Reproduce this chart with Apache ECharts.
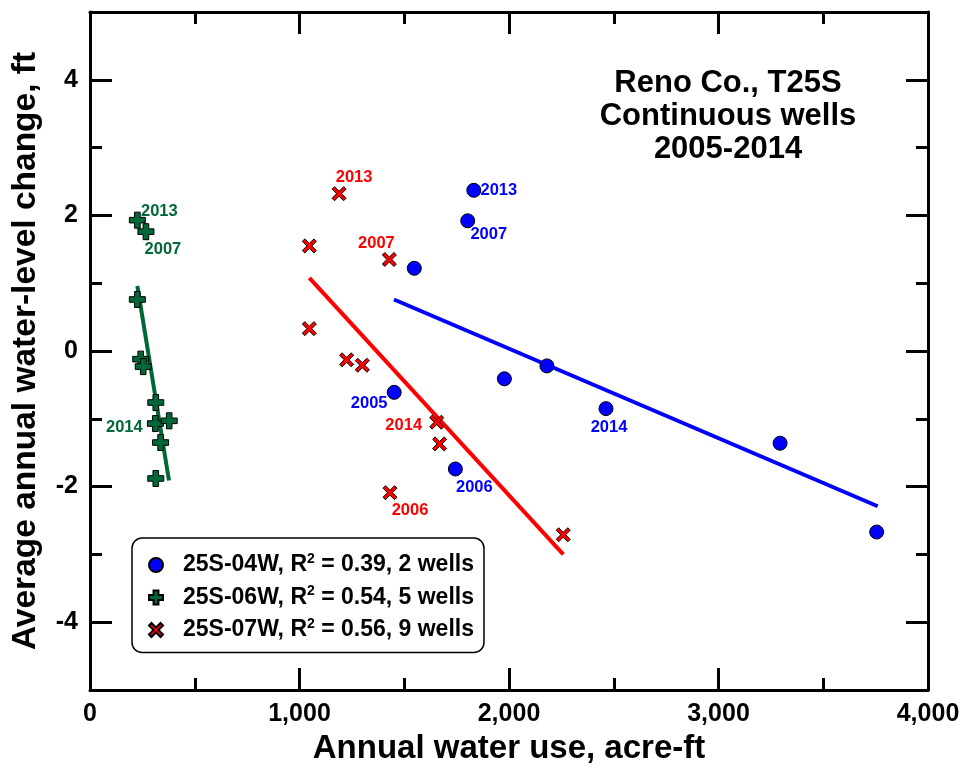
<!DOCTYPE html>
<html>
<head>
<meta charset="utf-8">
<script src="https://cdn.jsdelivr.net/npm/echarts@6/dist/echarts.min.js"></script>
<style>
html,body{margin:0;padding:0;background:#fff}
#chart{width:966px;height:770px}
</style>
</head>
<body>
<div id="chart"></div>
<script>
// annual water use (acre-ft) vs average water-level change (ft)
var use04 = [1452, 1744, 1803, 1832, 2463, 1548, 1978, 2181, 3294, 3755];
var chg04 = [-0.61, -1.74, 1.92, 2.37, -0.85, 1.22, -0.41, -0.22, -1.36, -2.67];
var yr04 = ['2005', '2006', '2007', '2013', '2014', '', '', '', '', ''];

var use06 = [226, 267, 312, 226, 242, 254, 314, 378, 337, 314];
var chg06 = [1.93, 1.76, -1.07, 0.76, -0.12, -0.23, -0.76, -1.03, -1.35, -1.88];
var yr06 = ['2013', '2007', '2014', '', '', '', '', '', '', ''];

var use07 = [1189, 1429, 1655, 1432, 1047, 1047, 1225, 1300, 1669, 2259];
var chg07 = [2.32, 1.35, -1.05, -2.09, 1.55, 0.33, -0.13, -0.21, -1.37, -2.71];
var yr07 = ['2013', '2007', '2014', '2006', '', '', '', '', '', ''];

// regression line end points
var fitX04 = [1451, 3760], fitY04 = [0.76, -2.29];
var fitX06 = [226, 377], fitY06 = [0.96, -1.91];
var fitX07 = [1047, 2259], fitY07 = [1.08, -3.0];

var names = ['25S-04W', '25S-06W', '25S-07W'];
var r2 = ['0.39', '0.54', '0.56'];
var wells = [2, 5, 9];

var yMajor = [-4, -2, 0, 2, 4];

// label placement (pixels from point centre)
var labelOffsets = {
    '04': {'2005': [-25, 11], '2006': [19, 18], '2007': [21, 14], '2013': [25, 0], '2014': [3, 19]},
    '06': {'2013': [22, -9], '2007': [17, 18], '2014': [-31, 4]},
    '07': {'2013': [15, -16], '2007': [-13, -16], '2014': [-33, 3], '2006': [20, 18]}
};

var BLUE = '#0000ff', GREEN = '#006837', RED = '#ff0000';
var FONT = '"Liberation Sans", Arial, sans-serif';
var plusPath = 'path://M6.5,0H13.5V6.5H20V13.5H13.5V20H6.5V13.5H0V6.5H6.5Z';
var crossPath = 'path://M0,3.5L3.5,0L10,6.5L16.5,0L20,3.5L13.5,10L20,16.5L16.5,20L10,13.5L3.5,20L0,16.5L6.5,10Z';

function points(xs, ys, yrs, key) {
    return xs.map(function (x, i) {
        var y = yrs[i];
        return {
            value: [x, ys[i]],
            label: y ? {show: true, formatter: y, offset: labelOffsets[key][y]} : {show: false}
        };
    });
}
function pairs(xs, ys) {
    return xs.map(function (x, i) { return [x, ys[i]]; });
}

function scatter(name, symbol, size, color, data) {
    return {
        name: name,
        type: 'scatter',
        symbol: symbol,
        symbolSize: size,
        z: 5,
        itemStyle: {color: color, borderColor: '#000', borderWidth: 1, opacity: 1},
        label: {
            position: 'inside',
            color: color,
            fontFamily: FONT,
            fontWeight: 'bold',
            fontSize: 16.5
        },
        data: data
    };
}
function fit(color, data) {
    return {
        name: 'fit',
        type: 'line',
        symbol: 'none',
        z: 2,
        silent: true,
        lineStyle: {color: color, width: 4},
        data: data
    };
}

var lineStyleAxis = {show: true, onZero: false, lineStyle: {color: '#000', width: 3}};

function xAx(pos, labels) {
    return {
        type: 'value', position: pos, min: 0, max: 4000, interval: 1000,
        axisLine: lineStyleAxis,
        axisTick: {show: true, inside: true, length: 22, lineStyle: {color: '#000', width: 3}},
        minorTick: {show: true, splitNumber: 2, length: 12, lineStyle: {color: '#000', width: 3}},
        splitLine: {show: false},
        axisLabel: labels ? {
            show: true, margin: 12, fontFamily: FONT, fontWeight: 'bold', fontSize: 25, color: '#000',
            formatter: function (v) { return v.toLocaleString('en-US'); }
        } : {show: false},
        name: labels ? 'Annual water use, acre-ft' : '',
        nameLocation: 'middle',
        nameGap: 42,
        nameTextStyle: {fontFamily: FONT, fontWeight: 'bold', fontSize: 33, color: '#000'}
    };
}
function yAx(pos, major, labels) {
    return {
        type: 'value', position: pos, min: -5, max: 5, interval: 1,
        axisLine: major ? {show: false, onZero: false} : lineStyleAxis,
        axisTick: major ?
            {show: true, inside: true, length: 22, customValues: yMajor, lineStyle: {color: '#000', width: 3}} :
            {show: true, inside: true, length: 12, lineStyle: {color: '#000', width: 3}},
        splitLine: {show: false},
        axisLabel: labels ? {
            show: true, margin: 12, fontFamily: FONT, fontWeight: 'bold', fontSize: 25, color: '#000',
            formatter: function (v) { return yMajor.indexOf(v) >= 0 ? String(v) : ''; }
        } : {show: false},
        name: labels ? 'Average annual water-level change, ft' : '',
        nameLocation: 'middle',
        nameRotate: 90,
        nameGap: 47,
        nameTextStyle: {fontFamily: FONT, fontWeight: 'bold', fontSize: 33.5, color: '#000'}
    };
}

var chart = echarts.init(document.getElementById('chart'));
chart.setOption({
    backgroundColor: '#fff',
    animation: false,
    grid: {left: 90, right: 38, top: 12, bottom: 78},
    graphic: [{
        type: 'text',
        x: 728, y: 67,
        style: {
            text: 'Reno Co., T25S\nContinuous wells\n2005-2014',
            font: 'bold 31px ' + FONT,
            fill: '#000',
            textAlign: 'center',
            lineHeight: 33
        }
    }],
    legend: {
        orient: 'vertical',
        left: 132, top: 538,
        padding: [14, 10, 11, 16],
        itemGap: 8,
        itemWidth: 14, itemHeight: 14,
        borderColor: '#000', borderWidth: 1.5, borderRadius: 10,
        backgroundColor: '#fff',
        selectedMode: false,
        data: names,
        formatter: function (name) {
            var i = names.indexOf(name);
            return '{t|' + name + ', R}{s|2}{t| = ' + r2[i] + ', ' + wells[i] + ' wells}';
        },
        textStyle: {
            padding: [0, 0, 0, 15],
            rich: {
                t: {fontFamily: FONT, fontWeight: 'bold', fontSize: 23, color: '#000', lineHeight: 26},
                s: {fontFamily: FONT, fontWeight: 'bold', fontSize: 14, color: '#000', lineHeight: 14, verticalAlign: 'top'}
            }
        }
    },
    xAxis: [xAx('bottom', true), xAx('top', false)],
    yAxis: [yAx('left', false, true), yAx('left', true, false), yAx('right', false, false), yAx('right', true, false)],
    series: [
        fit(BLUE, pairs(fitX04, fitY04)),
        fit(GREEN, pairs(fitX06, fitY06)),
        fit(RED, pairs(fitX07, fitY07)),
        scatter(names[0], 'circle', 14, BLUE, points(use04, chg04, yr04, '04')),
        scatter(names[1], plusPath, 16, GREEN, points(use06, chg06, yr06, '06')),
        scatter(names[2], crossPath, 14, RED, points(use07, chg07, yr07, '07'))
    ]
});
</script>
</body>
</html>
